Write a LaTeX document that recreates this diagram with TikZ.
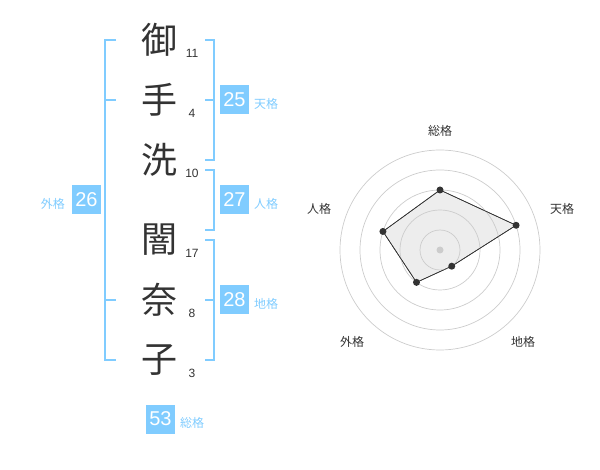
\documentclass[tikz,border=0pt]{standalone}
\usepackage{fontspec}
\setmainfont{Liberation Sans}
\newfontfamily\jpfont{Noto Sans CJK JP}
\definecolor{kakublue}{HTML}{80CCFF}
\definecolor{inkgray}{HTML}{333333}
\begin{document}
\begin{tikzpicture}[
    x=1pt, y=-1pt,
    kanji/.style={font=\jpfont\fontsize{36}{36}\selectfont, text=inkgray, inner sep=0pt},
    strokes/.style={font=\fontsize{12}{12}\selectfont, text=inkgray, inner sep=0pt},
    kakubox/.style={fill=kakublue, text=white, minimum size=29pt, inner sep=0pt, font=\fontsize{20}{20}\selectfont},
    kakuname/.style={font=\jpfont\fontsize{12}{12}\selectfont, text=kakublue, inner sep=0pt},
    bracket/.style={draw=kakublue, line width=2pt},
    ring/.style={draw=black!20, line width=0.7pt},
    axislabel/.style={font=\jpfont\fontsize{12}{12}\selectfont, text=inkgray, inner sep=0pt},
    point/.style={circle, fill=inkgray, minimum size=7pt, inner sep=0pt}
]
\useasboundingbox (0,0) rectangle (600,470);

% Name characters and stroke counts
\node[kanji] (k1) at (159,40) {御};
\node[kanji] (k2) at (159,100) {手};
\node[kanji] (k3) at (159,160) {洗};
\node[kanji] (k4) at (159,240) {闇};
\node[kanji] (k5) at (159,300) {奈};
\node[kanji] (k6) at (159,360) {子};

\node[strokes] (s1) at (192,53) {11};
\node[strokes] (s2) at (192,113) {4};
\node[strokes] (s3) at (192,173) {10};
\node[strokes] (s4) at (192,253) {17};
\node[strokes] (s5) at (192,313) {8};
\node[strokes] (s6) at (192,373) {3};

% Brackets
\draw[bracket] (116,40) -- (105,40) -- (105,360) -- (116,360);
\draw[bracket] (105,100) -- (116,100);
\draw[bracket] (105,300) -- (116,300);

\draw[bracket] (205,40) -- (214,40) -- (214,160) -- (205,160);
\draw[bracket] (205,100) -- (214,100);
\draw[bracket] (205,170) -- (214,170) -- (214,230) -- (205,230);
\draw[bracket] (205,240) -- (214,240) -- (214,360) -- (205,360);
\draw[bracket] (205,300) -- (214,300);

% Fortune boxes
\node[kakubox] (ten) at (234.5,100) {25};
\node[kakuname, anchor=west] (tenname) at (254,104) {天格};
\node[kakubox] (jin) at (234.5,200) {27};
\node[kakuname, anchor=west] (jinname) at (254,204) {人格};
\node[kakubox] (chi) at (234.5,300) {28};
\node[kakuname, anchor=west] (chiname) at (254,304) {地格};
\node[kakubox] (gai) at (86.5,200) {26};
\node[kakuname, anchor=east] (gainame) at (65,204) {外格};
\node[kakubox] (sou) at (160.5,419) {53};
\node[kakuname, anchor=west] (souname) at (180,423) {総格};

% Radar chart
\begin{scope}[shift={(440,250)}, yscale=-1]
  \filldraw[fill=black!7, draw=inkgray, line width=0.6pt]
      (90:60) -- (18:80) -- (-54:20) -- (-126:40) -- (162:60) -- cycle;
  \foreach \r in {20,40,...,100}
    \draw[ring] (0,0) circle (\r);
  \draw[inkgray, line width=0.6pt]
      (90:60) -- (18:80) -- (-54:20) -- (-126:40) -- (162:60) -- cycle;
  \node[circle, fill=black!20, minimum size=7pt, inner sep=0pt] (centre) at (0,0) {};
  \node[point] (psou) at (90:60) {};
  \node[point] (pten) at (18:80) {};
  \node[point] (pchi) at (-54:20) {};
  \node[point] (pgai) at (-126:40) {};
  \node[point] (pjin) at (162:60) {};
\end{scope}

\node[axislabel] (lsou) at (440,131) {総格};
\node[axislabel] (lten) at (562,209) {天格};
\node[axislabel] (ljin) at (319,209) {人格};
\node[axislabel] (lgai) at (352,342) {外格};
\node[axislabel] (lchi) at (523,342) {地格};

\end{tikzpicture}
\end{document}
